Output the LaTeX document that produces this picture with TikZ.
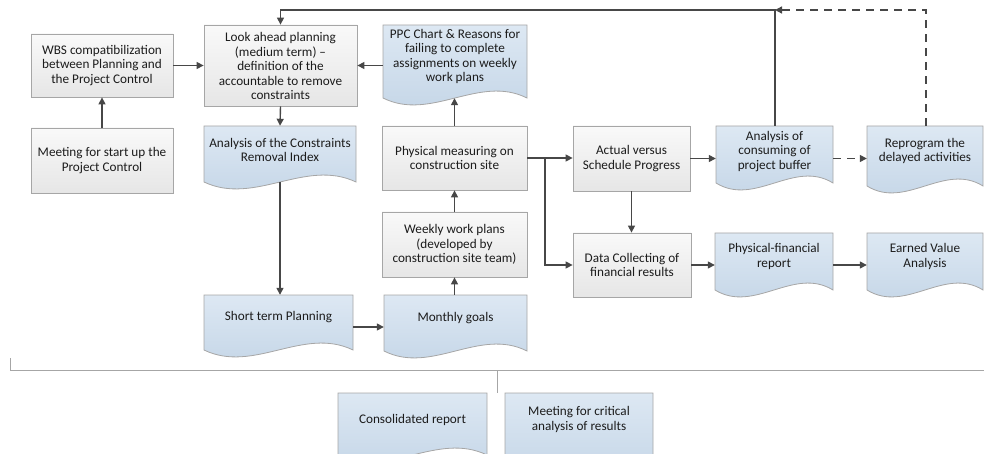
\documentclass[tikz,border=0pt]{standalone}
\usepackage{fontspec}
\setmainfont{Carlito}
\usetikzlibrary{arrows.meta}
\definecolor{arrowc}{HTML}{474747}
\definecolor{boxline}{HTML}{A6A6A6}
\definecolor{boxtop}{HTML}{F9F9F9}
\definecolor{boxbot}{HTML}{E6E6E6}
\definecolor{doctop}{HTML}{DDE8F3}
\definecolor{docbot}{HTML}{C2D4E6}
\definecolor{txt}{HTML}{1C1C1C}
\tikzset{
  lbl/.style={text=txt, align=center, inner sep=0pt, font=\fontsize{13.2}{14.5}\selectfont},
  procbox/.style={lbl, draw=boxline, line width=0.8pt, top color=boxtop, bottom color=boxbot},
  docpath/.style={draw=boxline, line width=0.8pt, top color=doctop, bottom color=docbot},
  frame/.style={draw=none, inner sep=0pt},
  conn/.style={draw=arrowc, line width=1.4pt, -{Triangle[length=7pt,width=7pt]}},
  dconn/.style={conn, dash pattern=on 8pt off 6pt},
  bracketline/.style={draw=boxline, line width=0.8pt}
}
% #1 name, #2 x0, #3 y0, #4 x1, #5 y1, #6 text
\newcommand{\procnode}[6]{%
  \node[procbox, minimum width={(#4-#2)*1pt}, minimum height={(#5-#3)*1pt}]
    (#1) at ({(#2+#4)/2},{(#3+#5)/2}) {#6};}
% #1 name, #2 x0, #3 y0, #4 x1, #5 wave mid, #6 text, #7 text offset
\newcommand{\docnode}[7]{%
  \path[docpath] (#2,#3) -- (#4,#3) -- (#4,#5)
    .. controls ({#4-(#4-#2)/3},{#5-24}) and ({#2+(#4-#2)/3},{#5+24}) .. (#2,#5) -- cycle;
  \node[frame, minimum width={(#4-#2)*1pt}, minimum height={(#5-#3)*1pt}]
    (#1) at ({(#2+#4)/2},{(#3+#5)/2}) {};
  \node[lbl] (#1-t) at ({(#2+#4)/2},{(#3+#5)/2+#7}) {#6};}
\begin{document}
\begin{tikzpicture}[x=1pt,y=-1pt]
\useasboundingbox (0,0) rectangle (984,454);
\clip (0,0) rectangle (984,454);

% process boxes
\procnode{wbs}{31}{34}{173}{97}{WBS compatibilization\\between Planning and\\the Project Control}
\procnode{meet}{31}{128}{173}{193}{Meeting for start up the\\Project Control}
\node[procbox, minimum width=153pt, minimum height=81pt] (look) at (280.5,65.5) {};
\begin{scope}
  \clip (204.5,25.5) rectangle (356.5,99);
  \node[lbl] (look-t) at (280.5,66) {Look ahead planning\\(medium term) --\\definition of the\\accountable to remove\\constraints};
\end{scope}
\procnode{phys}{382}{126}{527}{190}{Physical measuring on\\construction site}
\procnode{actual}{573}{126}{690}{191}{Actual versus\\Schedule Progress}
\procnode{weekly}{382}{212}{527}{277}{Weekly work plans\\(developed by\\construction site team)}
\procnode{data}{573}{233}{691}{297}{Data Collecting of\\financial results}

% documents
\docnode{cri}{204}{126}{356}{182}{Analysis of the Constraints\\Removal Index}{-4}
\docnode{ppc}{383}{25}{527}{98}{PPC Chart \& Reasons for\\failing to complete\\assignments on weekly\\work plans}{-5}
\docnode{cons}{716}{126}{833}{183}{Analysis of\\consuming of\\project buffer}{-3}
\docnode{repro}{867}{126}{983}{186}{Reprogram the\\delayed activities}{-5}
\docnode{short}{204}{295}{353}{350}{Short term Planning}{-5}
\docnode{month}{384}{295}{527}{351}{Monthly goals}{-5}
\docnode{pfr}{715}{233}{833}{290}{Physical-financial\\report}{-5}
\docnode{eva}{867}{233}{983}{290}{Earned Value\\Analysis}{-5}
\docnode{consol}{338}{393}{487}{455}{Consolidated report}{-4}
\docnode{crit}{505}{393}{653}{462}{Meeting for critical\\analysis of results}{-8}

% connectors
\draw[conn] (meet.north) -- (wbs.south);
\draw[conn] (wbs.east) -- (wbs.east -| look.west);
\draw[conn] (ppc.west |- look.east) -- (look.east);
\draw[conn] (look.south) -- (cri.north);
\draw[conn] (cri.south) -- (cri.south |- short.north);
\coordinate (sm) at (353,327);
\draw[conn] (sm) -- (sm -| month.west);
\draw[conn] (month.north -| weekly.south) -- (weekly.south);
\draw[conn] (weekly.north) -- (phys.south);
\draw[conn] (phys.north) -- (phys.north |- ppc.south);
\draw[conn] (phys.east) -- (phys.east -| actual.west);
\coordinate (br) at (545,158);
\draw[conn] (br) |- (data.west);
\draw[conn] (actual.south) -- (actual.south |- data.north);
\draw[conn] (actual.east) -- (actual.east -| cons.west);
\draw[dconn] (cons.east |- actual.east) -- (repro.west |- actual.east);
\coordinate (topj) at (775,10);
\draw[conn] (cons.north -| topj) -- (topj) -| (look.north);
\draw[dconn] (repro.north -| 926,0) |- (topj);
\draw[conn] (data.east) -- (pfr.west |- data.east);
\draw[conn] (pfr.east |- data.east) -- (eva.west |- data.east);

% bracket
\coordinate (bl) at (10,358);
\coordinate (bc) at (497,370);
\draw[bracketline] (bl) -- (10,370) -- (984,370);
\draw[bracketline] (bc) -- (consol.north -| bc);
\end{tikzpicture}
\end{document}
